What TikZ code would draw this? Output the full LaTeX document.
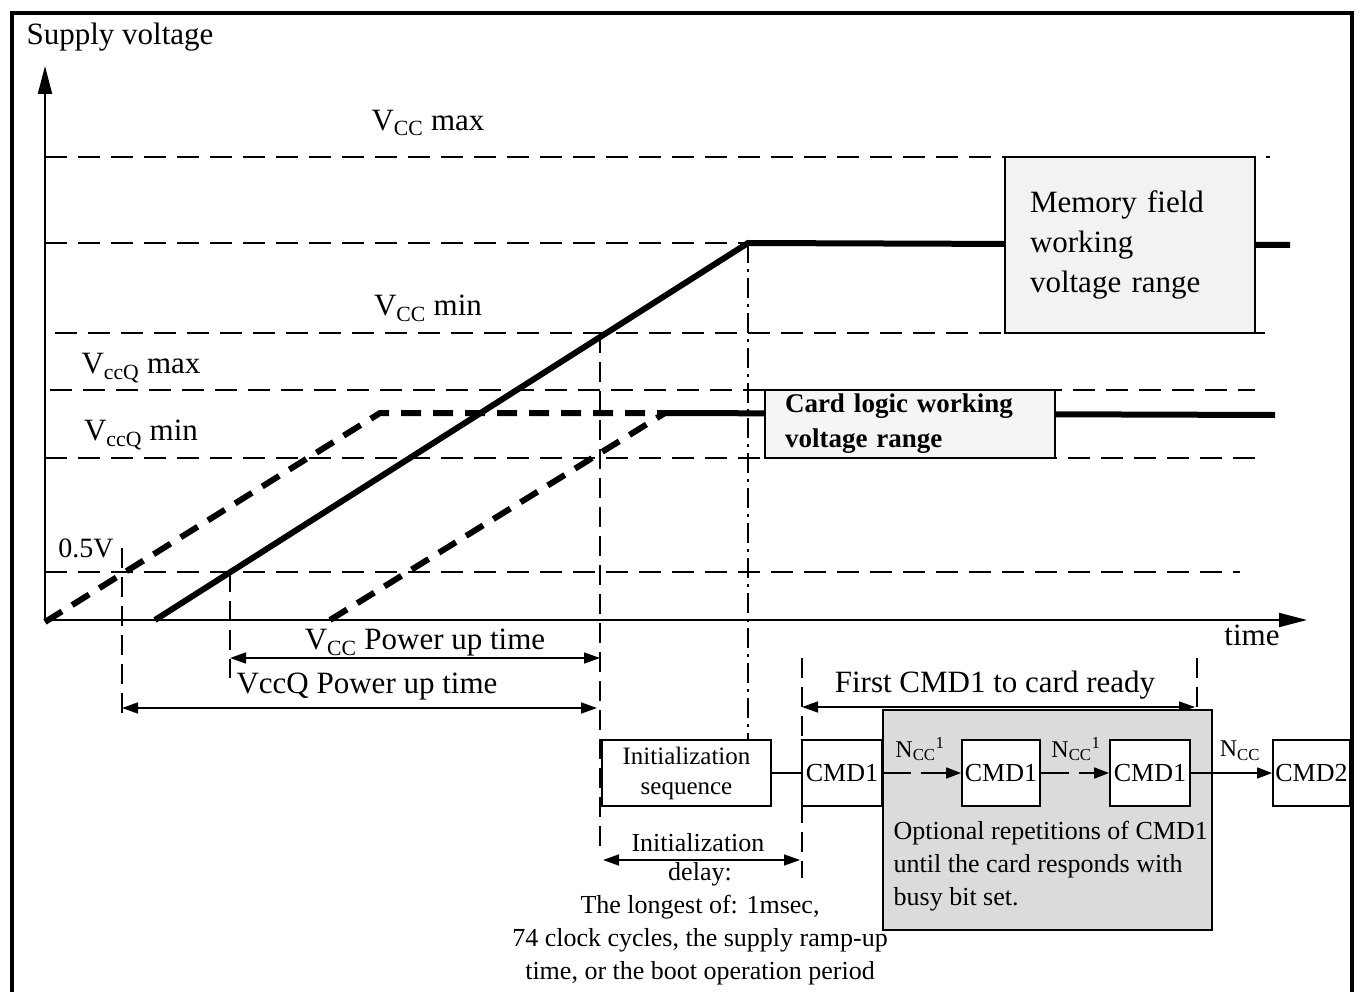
\documentclass[tikz,border=0pt]{standalone}
\usepackage{fontspec}
\setmainfont{Liberation Serif}
\usetikzlibrary{arrows.meta}

\tikzset{every picture/.style={line width=1.3pt}}
\tikzset{
  axis/.style={line width=2pt, -{Triangle[length=28pt,width=14pt]}},
  vlevel/.style={line width=1.3pt, dash pattern=on 22pt off 11pt},
  guide/.style={line width=1.5pt, dash pattern=on 20pt off 9pt},
  guidedot/.style={line width=1.5pt, dash pattern=on 20pt off 6pt on 3pt off 6pt},
  rail/.style={line width=6pt},
  railq/.style={line width=6pt, dash pattern=on 20pt off 12pt},
  span/.style={line width=1.6pt, {Triangle[length=16pt,width=11pt]}-{Triangle[length=16pt,width=11pt]}},
  link/.style={line width=1.6pt, -{Triangle[length=15pt,width=11pt]}},
  lbl/.style={inner sep=0pt, font=\fontsize{31}{34}\selectfont},
  smalltxt/.style={inner sep=0pt, font=\fontsize{26}{33}\selectfont},
  nlbl/.style={inner sep=0pt, font=\fontsize{24}{26}\selectfont},
  cmdbox/.style={draw, line width=1.8pt, fill=white, minimum height=66pt, inner sep=0pt, font=\fontsize{26}{30}\selectfont},
  membox/.style={draw, line width=1.8pt, fill=black!5, minimum width=250pt, minimum height=176pt,
    inner xsep=25pt, text width=200pt, align=left, font=\fontsize{31}{40}\selectfont},
  cardbox/.style={draw, line width=1.8pt, fill=black!4, minimum width=290pt, minimum height=68pt,
    inner xsep=20pt, text width=250pt, align=left, font=\bfseries\fontsize{27}{35}\selectfont},
  repbox/.style={draw, line width=1.8pt, fill=black!14, minimum width=329pt, minimum height=220pt, inner sep=0pt},
}

\begin{document}
\begin{tikzpicture}[x=1pt,y=1pt,yscale=-1]
  \useasboundingbox (0,0) rectangle (1365,992);
  \draw [line width=4pt] (12,13) rectangle (1352,1010);

  % axes
  \coordinate (o) at (45,620);
  \coordinate (ytop) at (45,66);
  \coordinate (xend) at (1307,620);
  \draw [axis] (o) -- (ytop);
  \draw [axis] (o) -- (xend);

  % voltage levels
  \draw [vlevel] (45,157) -- (1270,157);
  \draw [vlevel] (45,243) -- (1270,243);
  \draw [vlevel] (55,333) -- (1265,333);
  \draw [vlevel] (50,390) -- (1255,390);
  \draw [vlevel] (45,458) -- (1255,458);
  \draw [vlevel] (45,572) -- (1240,572);

  % guides
  \draw [guide] (122,548) -- (122,720);
  \draw [guide] (230,572) -- (230,678);
  \draw [guide] (600,333) -- (600,850);
  \draw [guidedot] (748,243) -- (748,740);
  \draw [guide] (802,658) -- (802,878);
  \draw [guide] (1197,658) -- (1197,710);

  % supply ramps
  \draw [rail] (155,620) -- (748,243) -- (1290,245);
  \draw [railq] (45,622) -- (380,413) -- (665,413);
  \draw [railq] (330,620) -- (665,413);
  \draw [rail] (662,413) -- (1275,415);

  \node [membox] (mem) at (1130,245) {Memory field\\working\\voltage range};
  \node [cardbox] (card) at (910,424) {Card logic working\\voltage range};

  \node [lbl] (ylab) at (120,37) {Supply voltage};
  \node [lbl] (vccmax) at (428,123) {V\textsubscript{CC} max};
  \node [lbl] (vccmin) at (428,308) {V\textsubscript{CC} min};
  \node [lbl] (vqmax) at (141,368) {V\textsubscript{ccQ} max};
  \node [lbl] (vqmin) at (141,435) {V\textsubscript{ccQ} min};
  \node [lbl, font=\fontsize{28}{30}\selectfont] (half) at (86,548) {0.5V};
  \node [lbl] (tlab) at (1252,635) {time};

  % power up spans
  \node [lbl] (pvcc) at (425,643) {V\textsubscript{CC} Power up time};
  \node [lbl] (pvq) at (367,687) {VccQ Power up time};
  \coordinate (pa) at (230,658);
  \coordinate (pb) at (600,658);
  \coordinate (qa) at (122,708);
  \coordinate (qb) at (597,708);
  \draw [span] (pa) -- (pb);
  \draw [span] (qa) -- (qb);

  % command sequence
  \node [lbl] (first) at (995,685) {First CMD1 to card ready};
  \coordinate (fa) at (802,707);
  \coordinate (fb) at (1195,707);
  \draw [span] (fa) -- (fb);

  \node [repbox] (rep) at (1047.5,820) {};
  \node [cmdbox, minimum width=169pt, align=center, font=\fontsize{25}{30}\selectfont] (init) at (686.5,773) {Initialization\\sequence};
  \node [cmdbox, minimum width=80pt] (cmda) at (842,773) {CMD1};
  \node [cmdbox, minimum width=78pt] (cmdb) at (1001,773) {CMD1};
  \node [cmdbox, minimum width=80pt] (cmdc) at (1150,773) {CMD1};
  \node [cmdbox, minimum width=77pt] (cmdd) at (1311.5,773) {CMD2};

  \draw [line width=1.6pt] (init) -- (cmda);
  \draw [link, dash pattern=on 28pt off 10pt] (cmda) -- (cmdb);
  \draw [link, dash pattern=on 28pt off 10pt] (cmdb) -- (cmdc);
  \draw [link] (cmdc) -- (cmdd);
  \node [nlbl] (ncca) at (920,749) {N\textsubscript{CC}\textsuperscript{1}};
  \node [nlbl] (nccb) at (1076,749) {N\textsubscript{CC}\textsuperscript{1}};
  \node [nlbl] (nccc) at (1240,751) {N\textsubscript{CC}};

  \node [smalltxt, anchor=west, align=left] (reptxt) at (893,866)
    {Optional repetitions of CMD1\\until the card responds with\\busy bit set.};

  % initialization delay
  \node [smalltxt] (dlyhead) at (698,843) {Initialization};
  \coordinate (da) at (603,860);
  \coordinate (db) at (800,860);
  \draw [span] (da) -- (db);
  \node [smalltxt, anchor=north, align=center] (dlybody) at (700,862)
    {delay:\\The longest of: 1msec,\\74 clock cycles, the supply ramp-up\\time, or the boot operation period};
\end{tikzpicture}
\end{document}
